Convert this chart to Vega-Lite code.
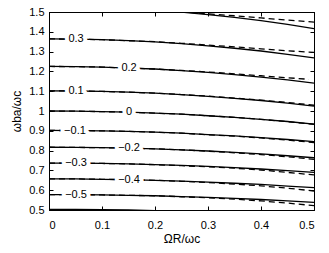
{
  "$schema": "https://vega.github.io/schema/vega-lite/v6.json",
  "width": 265,
  "height": 198,
  "autosize": "none",
  "padding": {"left": 49, "top": 12, "right": 15, "bottom": 43},
  "background": "white",
  "config": {
    "view": {"stroke": "black", "strokeWidth": 1},
    "axis": {
      "grid": false,
      "domainColor": "black",
      "tickColor": "black",
      "labelColor": "black",
      "titleColor": "black",
      "labelFont": "Liberation Sans",
      "titleFont": "Liberation Sans",
      "labelFontSize": 11,
      "titleFontSize": 12,
      "titleFontWeight": "normal",
      "tickSize": -4,
      "domainWidth": 1,
      "tickWidth": 1
    }
  },
  "datasets": {
    "solid": [
      {"level": "0.4", "x": 0, "y": 1.527}, {"level": "0.4", "x": 0.05, "y": 1.526}, {"level": "0.4", "x": 0.1, "y": 1.523}, {"level": "0.4", "x": 0.15, "y": 1.517}, {"level": "0.4", "x": 0.2, "y": 1.509}, {"level": "0.4", "x": 0.25, "y": 1.499}, {"level": "0.4", "x": 0.3, "y": 1.487}, {"level": "0.4", "x": 0.35, "y": 1.473}, {"level": "0.4", "x": 0.4, "y": 1.456}, {"level": "0.4", "x": 0.45, "y": 1.437}, {"level": "0.4", "x": 0.5, "y": 1.416},
      {"level": "0.3", "x": 0, "y": 1.364}, {"level": "0.3", "x": 0.05, "y": 1.363}, {"level": "0.3", "x": 0.1, "y": 1.36}, {"level": "0.3", "x": 0.15, "y": 1.355}, {"level": "0.3", "x": 0.2, "y": 1.349}, {"level": "0.3", "x": 0.25, "y": 1.34}, {"level": "0.3", "x": 0.3, "y": 1.329}, {"level": "0.3", "x": 0.35, "y": 1.317}, {"level": "0.3", "x": 0.4, "y": 1.303}, {"level": "0.3", "x": 0.45, "y": 1.286}, {"level": "0.3", "x": 0.5, "y": 1.268},
      {"level": "0.2", "x": 0, "y": 1.225}, {"level": "0.2", "x": 0.05, "y": 1.224}, {"level": "0.2", "x": 0.1, "y": 1.222}, {"level": "0.2", "x": 0.15, "y": 1.217}, {"level": "0.2", "x": 0.2, "y": 1.212}, {"level": "0.2", "x": 0.25, "y": 1.204}, {"level": "0.2", "x": 0.3, "y": 1.195}, {"level": "0.2", "x": 0.35, "y": 1.184}, {"level": "0.2", "x": 0.4, "y": 1.171}, {"level": "0.2", "x": 0.45, "y": 1.157}, {"level": "0.2", "x": 0.5, "y": 1.141},
      {"level": "0.1", "x": 0, "y": 1.102}, {"level": "0.1", "x": 0.05, "y": 1.101}, {"level": "0.1", "x": 0.1, "y": 1.099}, {"level": "0.1", "x": 0.15, "y": 1.095}, {"level": "0.1", "x": 0.2, "y": 1.09}, {"level": "0.1", "x": 0.25, "y": 1.083}, {"level": "0.1", "x": 0.3, "y": 1.074}, {"level": "0.1", "x": 0.35, "y": 1.064}, {"level": "0.1", "x": 0.4, "y": 1.053}, {"level": "0.1", "x": 0.45, "y": 1.04}, {"level": "0.1", "x": 0.5, "y": 1.025},
      {"level": "0", "x": 0, "y": 1.0}, {"level": "0", "x": 0.05, "y": 0.999}, {"level": "0", "x": 0.1, "y": 0.997}, {"level": "0", "x": 0.15, "y": 0.994}, {"level": "0", "x": 0.2, "y": 0.989}, {"level": "0", "x": 0.25, "y": 0.984}, {"level": "0", "x": 0.3, "y": 0.976}, {"level": "0", "x": 0.35, "y": 0.968}, {"level": "0", "x": 0.4, "y": 0.958}, {"level": "0", "x": 0.45, "y": 0.947}, {"level": "0", "x": 0.5, "y": 0.934},
      {"level": "-0.1", "x": 0, "y": 0.902}, {"level": "-0.1", "x": 0.05, "y": 0.901}, {"level": "-0.1", "x": 0.1, "y": 0.9}, {"level": "-0.1", "x": 0.15, "y": 0.897}, {"level": "-0.1", "x": 0.2, "y": 0.893}, {"level": "-0.1", "x": 0.25, "y": 0.888}, {"level": "-0.1", "x": 0.3, "y": 0.881}, {"level": "-0.1", "x": 0.35, "y": 0.874}, {"level": "-0.1", "x": 0.4, "y": 0.866}, {"level": "-0.1", "x": 0.45, "y": 0.856}, {"level": "-0.1", "x": 0.5, "y": 0.845},
      {"level": "-0.2", "x": 0, "y": 0.817}, {"level": "-0.2", "x": 0.05, "y": 0.816}, {"level": "-0.2", "x": 0.1, "y": 0.815}, {"level": "-0.2", "x": 0.15, "y": 0.812}, {"level": "-0.2", "x": 0.2, "y": 0.809}, {"level": "-0.2", "x": 0.25, "y": 0.804}, {"level": "-0.2", "x": 0.3, "y": 0.798}, {"level": "-0.2", "x": 0.35, "y": 0.791}, {"level": "-0.2", "x": 0.4, "y": 0.783}, {"level": "-0.2", "x": 0.45, "y": 0.774}, {"level": "-0.2", "x": 0.5, "y": 0.764},
      {"level": "-0.3", "x": 0, "y": 0.737}, {"level": "-0.3", "x": 0.05, "y": 0.737}, {"level": "-0.3", "x": 0.1, "y": 0.735}, {"level": "-0.3", "x": 0.15, "y": 0.733}, {"level": "-0.3", "x": 0.2, "y": 0.729}, {"level": "-0.3", "x": 0.25, "y": 0.725}, {"level": "-0.3", "x": 0.3, "y": 0.72}, {"level": "-0.3", "x": 0.35, "y": 0.714}, {"level": "-0.3", "x": 0.4, "y": 0.707}, {"level": "-0.3", "x": 0.45, "y": 0.699}, {"level": "-0.3", "x": 0.5, "y": 0.69},
      {"level": "-0.4", "x": 0, "y": 0.657}, {"level": "-0.4", "x": 0.05, "y": 0.657}, {"level": "-0.4", "x": 0.1, "y": 0.655}, {"level": "-0.4", "x": 0.15, "y": 0.653}, {"level": "-0.4", "x": 0.2, "y": 0.65}, {"level": "-0.4", "x": 0.25, "y": 0.646}, {"level": "-0.4", "x": 0.3, "y": 0.641}, {"level": "-0.4", "x": 0.35, "y": 0.635}, {"level": "-0.4", "x": 0.4, "y": 0.629}, {"level": "-0.4", "x": 0.45, "y": 0.621}, {"level": "-0.4", "x": 0.5, "y": 0.613},
      {"level": "-0.5", "x": 0, "y": 0.578}, {"level": "-0.5", "x": 0.05, "y": 0.578}, {"level": "-0.5", "x": 0.1, "y": 0.576}, {"level": "-0.5", "x": 0.15, "y": 0.574}, {"level": "-0.5", "x": 0.2, "y": 0.572}, {"level": "-0.5", "x": 0.25, "y": 0.568}, {"level": "-0.5", "x": 0.3, "y": 0.564}, {"level": "-0.5", "x": 0.35, "y": 0.559}, {"level": "-0.5", "x": 0.4, "y": 0.553}, {"level": "-0.5", "x": 0.45, "y": 0.546}, {"level": "-0.5", "x": 0.5, "y": 0.539},
      {"level": "-0.6", "x": 0, "y": 0.503}, {"level": "-0.6", "x": 0.05, "y": 0.503}, {"level": "-0.6", "x": 0.1, "y": 0.502}, {"level": "-0.6", "x": 0.15, "y": 0.5}, {"level": "-0.6", "x": 0.2, "y": 0.497}, {"level": "-0.6", "x": 0.25, "y": 0.494}, {"level": "-0.6", "x": 0.3, "y": 0.49}, {"level": "-0.6", "x": 0.35, "y": 0.486}, {"level": "-0.6", "x": 0.4, "y": 0.481}, {"level": "-0.6", "x": 0.45, "y": 0.475}, {"level": "-0.6", "x": 0.5, "y": 0.468}
    ],
    "dashed": [
      {"level": "0.4", "x": 0, "y": 1.527}, {"level": "0.4", "x": 0.05, "y": 1.526}, {"level": "0.4", "x": 0.1, "y": 1.523}, {"level": "0.4", "x": 0.15, "y": 1.517}, {"level": "0.4", "x": 0.2, "y": 1.51}, {"level": "0.4", "x": 0.25, "y": 1.501}, {"level": "0.4", "x": 0.3, "y": 1.491}, {"level": "0.4", "x": 0.35, "y": 1.481}, {"level": "0.4", "x": 0.4, "y": 1.47}, {"level": "0.4", "x": 0.45, "y": 1.459}, {"level": "0.4", "x": 0.5, "y": 1.449},
      {"level": "0.3", "x": 0, "y": 1.364}, {"level": "0.3", "x": 0.05, "y": 1.363}, {"level": "0.3", "x": 0.1, "y": 1.36}, {"level": "0.3", "x": 0.15, "y": 1.355}, {"level": "0.3", "x": 0.2, "y": 1.35}, {"level": "0.3", "x": 0.25, "y": 1.342}, {"level": "0.3", "x": 0.3, "y": 1.333}, {"level": "0.3", "x": 0.35, "y": 1.324}, {"level": "0.3", "x": 0.4, "y": 1.314}, {"level": "0.3", "x": 0.45, "y": 1.304}, {"level": "0.3", "x": 0.5, "y": 1.296},
      {"level": "0.2", "x": 0, "y": 1.225}, {"level": "0.2", "x": 0.05, "y": 1.224}, {"level": "0.2", "x": 0.1, "y": 1.222}, {"level": "0.2", "x": 0.15, "y": 1.217}, {"level": "0.2", "x": 0.2, "y": 1.212}, {"level": "0.2", "x": 0.25, "y": 1.205}, {"level": "0.2", "x": 0.3, "y": 1.197}, {"level": "0.2", "x": 0.35, "y": 1.188}, {"level": "0.2", "x": 0.4, "y": 1.178}, {"level": "0.2", "x": 0.45, "y": 1.168}, {"level": "0.2", "x": 0.49, "y": 1.16},
      {"level": "0.1", "x": 0, "y": 1.102}, {"level": "0.1", "x": 0.05, "y": 1.101}, {"level": "0.1", "x": 0.1, "y": 1.099}, {"level": "0.1", "x": 0.15, "y": 1.095}, {"level": "0.1", "x": 0.2, "y": 1.09}, {"level": "0.1", "x": 0.25, "y": 1.083}, {"level": "0.1", "x": 0.3, "y": 1.075}, {"level": "0.1", "x": 0.35, "y": 1.065}, {"level": "0.1", "x": 0.4, "y": 1.055}, {"level": "0.1", "x": 0.45, "y": 1.043}, {"level": "0.1", "x": 0.5, "y": 1.029},
      {"level": "0", "x": 0, "y": 1.0}, {"level": "0", "x": 0.05, "y": 0.999}, {"level": "0", "x": 0.1, "y": 0.997}, {"level": "0", "x": 0.15, "y": 0.994}, {"level": "0", "x": 0.2, "y": 0.989}, {"level": "0", "x": 0.25, "y": 0.984}, {"level": "0", "x": 0.3, "y": 0.976}, {"level": "0", "x": 0.35, "y": 0.968}, {"level": "0", "x": 0.4, "y": 0.958}, {"level": "0", "x": 0.45, "y": 0.946}, {"level": "0", "x": 0.5, "y": 0.933},
      {"level": "-0.1", "x": 0, "y": 0.902}, {"level": "-0.1", "x": 0.05, "y": 0.901}, {"level": "-0.1", "x": 0.1, "y": 0.9}, {"level": "-0.1", "x": 0.15, "y": 0.897}, {"level": "-0.1", "x": 0.2, "y": 0.893}, {"level": "-0.1", "x": 0.25, "y": 0.888}, {"level": "-0.1", "x": 0.3, "y": 0.88}, {"level": "-0.1", "x": 0.35, "y": 0.873}, {"level": "-0.1", "x": 0.4, "y": 0.864}, {"level": "-0.1", "x": 0.45, "y": 0.853}, {"level": "-0.1", "x": 0.5, "y": 0.841},
      {"level": "-0.2", "x": 0, "y": 0.817}, {"level": "-0.2", "x": 0.05, "y": 0.816}, {"level": "-0.2", "x": 0.1, "y": 0.815}, {"level": "-0.2", "x": 0.15, "y": 0.812}, {"level": "-0.2", "x": 0.2, "y": 0.809}, {"level": "-0.2", "x": 0.25, "y": 0.804}, {"level": "-0.2", "x": 0.3, "y": 0.797}, {"level": "-0.2", "x": 0.35, "y": 0.789}, {"level": "-0.2", "x": 0.4, "y": 0.78}, {"level": "-0.2", "x": 0.45, "y": 0.769}, {"level": "-0.2", "x": 0.5, "y": 0.756},
      {"level": "-0.3", "x": 0, "y": 0.737}, {"level": "-0.3", "x": 0.05, "y": 0.737}, {"level": "-0.3", "x": 0.1, "y": 0.735}, {"level": "-0.3", "x": 0.15, "y": 0.733}, {"level": "-0.3", "x": 0.2, "y": 0.729}, {"level": "-0.3", "x": 0.25, "y": 0.724}, {"level": "-0.3", "x": 0.3, "y": 0.718}, {"level": "-0.3", "x": 0.35, "y": 0.711}, {"level": "-0.3", "x": 0.4, "y": 0.702}, {"level": "-0.3", "x": 0.45, "y": 0.69}, {"level": "-0.3", "x": 0.5, "y": 0.677},
      {"level": "-0.4", "x": 0, "y": 0.657}, {"level": "-0.4", "x": 0.05, "y": 0.657}, {"level": "-0.4", "x": 0.1, "y": 0.655}, {"level": "-0.4", "x": 0.15, "y": 0.653}, {"level": "-0.4", "x": 0.2, "y": 0.65}, {"level": "-0.4", "x": 0.25, "y": 0.645}, {"level": "-0.4", "x": 0.3, "y": 0.639}, {"level": "-0.4", "x": 0.35, "y": 0.631}, {"level": "-0.4", "x": 0.4, "y": 0.622}, {"level": "-0.4", "x": 0.45, "y": 0.61}, {"level": "-0.4", "x": 0.5, "y": 0.596},
      {"level": "-0.5", "x": 0, "y": 0.578}, {"level": "-0.5", "x": 0.05, "y": 0.578}, {"level": "-0.5", "x": 0.1, "y": 0.576}, {"level": "-0.5", "x": 0.15, "y": 0.574}, {"level": "-0.5", "x": 0.2, "y": 0.572}, {"level": "-0.5", "x": 0.25, "y": 0.567}, {"level": "-0.5", "x": 0.3, "y": 0.562}, {"level": "-0.5", "x": 0.35, "y": 0.555}, {"level": "-0.5", "x": 0.4, "y": 0.546}, {"level": "-0.5", "x": 0.45, "y": 0.535}, {"level": "-0.5", "x": 0.5, "y": 0.522}
    ],
    "labels": [
      {"text": "0.3", "x": 0.051, "y": 1.363},
      {"text": "0.2", "x": 0.151, "y": 1.217},
      {"text": "0.1", "x": 0.051, "y": 1.101},
      {"text": "0", "x": 0.151, "y": 0.994},
      {"text": "−0.1", "x": 0.049, "y": 0.901},
      {"text": "−0.2", "x": 0.151, "y": 0.812},
      {"text": "−0.3", "x": 0.051, "y": 0.736},
      {"text": "−0.4", "x": 0.151, "y": 0.653},
      {"text": "−0.5", "x": 0.051, "y": 0.577}
    ]
  },
  "layer": [
    {
      "data": {"name": "solid"},
      "mark": {"type": "line", "color": "black", "strokeWidth": 1.3, "clip": true},
      "encoding": {
        "x": {"field": "x", "type": "quantitative", "scale": {"domain": [0, 0.5], "nice": false, "zero": false},
              "axis": {"orient": "bottom", "values": [0, 0.1, 0.2, 0.3, 0.4, 0.5], "format": "~g", "title": "ΩR/ωc", "labelPadding": 13, "titlePadding": 3}},
        "y": {"field": "y", "type": "quantitative", "scale": {"domain": [0.5, 1.5], "nice": false, "zero": false},
              "axis": {"orient": "left", "values": [0.5, 0.6, 0.7, 0.8, 0.9, 1, 1.1, 1.2, 1.3, 1.4, 1.5], "format": "~g", "title": "ωba/ωc", "labelPadding": 9, "titlePadding": 5}},
        "detail": {"field": "level"}
      }
    },
    {
      "data": {"name": "dashed"},
      "mark": {"type": "line", "color": "black", "strokeWidth": 1.3, "strokeDash": [6, 4], "clip": true},
      "encoding": {
        "x": {"field": "x", "type": "quantitative", "scale": {"domain": [0, 0.5], "nice": false, "zero": false},
              "axis": {"orient": "top", "values": [0, 0.1, 0.2, 0.3, 0.4, 0.5], "labels": false, "title": null}},
        "y": {"field": "y", "type": "quantitative", "scale": {"domain": [0.5, 1.5], "nice": false, "zero": false},
              "axis": {"orient": "right", "values": [0.5, 0.6, 0.7, 0.8, 0.9, 1, 1.1, 1.2, 1.3, 1.4, 1.5], "labels": false, "title": null}},
        "detail": {"field": "level"}
      }
    },
    {
      "data": {"name": "labels"},
      "mark": {"type": "text", "font": "Liberation Sans", "fontSize": 11, "align": "center", "baseline": "middle", "stroke": "white", "strokeWidth": 8, "strokeJoin": "round", "fill": "white"},
      "encoding": {
        "x": {"field": "x", "type": "quantitative", "axis": null},
        "y": {"field": "y", "type": "quantitative", "axis": null},
        "text": {"field": "text"}
      }
    },
    {
      "data": {"name": "labels"},
      "mark": {"type": "text", "font": "Liberation Sans", "fontSize": 11, "align": "center", "baseline": "middle", "color": "black"},
      "encoding": {
        "x": {"field": "x", "type": "quantitative", "axis": null},
        "y": {"field": "y", "type": "quantitative", "axis": null},
        "text": {"field": "text"}
      }
    }
  ],
  "resolve": {"axis": {"x": "independent", "y": "independent"}}
}
